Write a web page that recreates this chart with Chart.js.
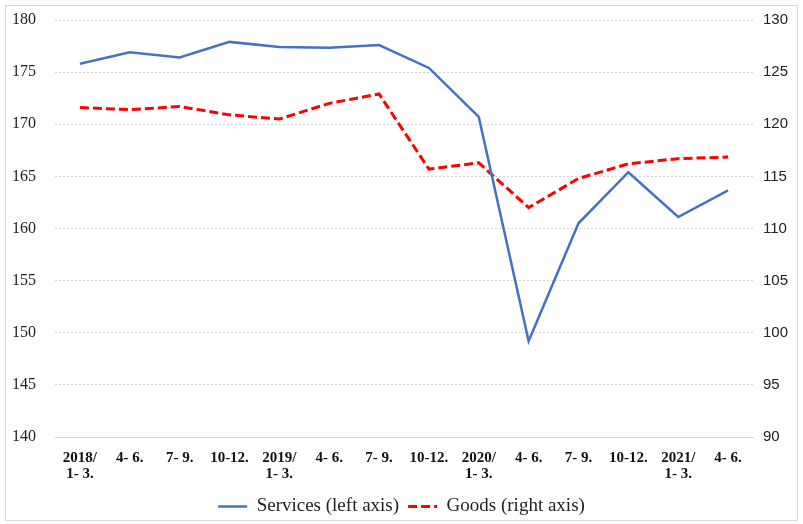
<!DOCTYPE html>
<html>
<head>
<meta charset="utf-8">
<script src="https://cdn.jsdelivr.net/npm/chart.js@4/dist/chart.umd.min.js"></script>
<style>
  html, body { margin: 0; padding: 0; background: #ffffff; }
  #wrap { position: relative; width: 803px; height: 524px; }
  #frame { position: absolute; left: 5px; top: 5px; width: 793px; height: 516px; border: 1px solid #d9d9d9; box-sizing: border-box; pointer-events: none; }
  canvas { position: absolute; left: 0; top: 0; }
</style>
</head>
<body>
<div id="wrap">
  <div id="frame"></div>
  <canvas id="c" width="803" height="524"></canvas>
</div>
<script>
const categories = [
  ['2018/', '1- 3.'], '4- 6.', '7- 9.', '10-12.',
  ['2019/', '1- 3.'], '4- 6.', '7- 9.', '10-12.',
  ['2020/', '1- 3.'], '4- 6.', '7- 9.', '10-12.',
  ['2021/', '1- 3.'], '4- 6.'
];
const servicesLeft = [175.8, 176.9, 176.4, 177.9, 177.4, 177.35, 177.6, 175.4, 170.7, 149.2, 160.5, 165.4, 161.1, 163.65];
const goodsRight = [121.6, 121.4, 121.7, 120.9, 120.5, 122.0, 122.9, 115.7, 116.3, 112.0, 114.8, 116.2, 116.7, 116.85];
const leftTicks = [140, 145, 150, 155, 160, 165, 170, 175, 180];
const rightTicks = [90, 95, 100, 105, 110, 115, 120, 125, 130];
const seriesNames = ['Services (left axis)', 'Goods (right axis)'];

new Chart(document.getElementById('c'), {
  type: 'line',
  data: {
    labels: categories,
    datasets: [
      {
        label: seriesNames[0],
        data: servicesLeft,
        yAxisID: 'yL',
        borderColor: '#4472C4',
        backgroundColor: '#4472C4',
        borderWidth: 2.5,
        pointRadius: 0,
        tension: 0,
        fill: false
      },
      {
        label: seriesNames[1],
        data: goodsRight,
        yAxisID: 'yR',
        borderColor: '#FF0000',
        backgroundColor: '#FF0000',
        borderWidth: 3,
        borderDash: [9, 4],
        pointRadius: 0,
        tension: 0,
        fill: false
      }
    ]
  },
  options: {
    responsive: false,
    animation: false,
    devicePixelRatio: 1,
    layout: { padding: { left: 6, right: 6, top: 20, bottom: -2 } },
    plugins: {
      tooltip: { enabled: false },
      legend: {
        position: 'bottom',
        labels: {
          usePointStyle: true,
          pointStyle: 'line',
          pointStyleWidth: 29,
          boxHeight: 19,
          padding: 9,
          color: '#222222',
          font: { family: '"Liberation Serif", "Times New Roman", serif', size: 19 },
          generateLabels: function (chart) {
            return chart.data.datasets.map(function (ds, i) {
              return {
                text: ds.label,
                fillStyle: ds.borderColor,
                strokeStyle: ds.borderColor,
                lineWidth: ds.borderWidth,
                lineDash: ds.borderDash || [],
                pointStyle: 'line',
                fontColor: '#222222',
                datasetIndex: i,
                hidden: false
              };
            });
          }
        }
      }
    },
    scales: {
      x: {
        type: 'category',
        offset: true,
        grid: { display: false, drawTicks: false },
        border: { display: true, color: '#d9d9d9', width: 1 },
        ticks: {
          autoSkip: false,
          maxRotation: 0,
          minRotation: 0,
          padding: 13,
          color: '#111111',
          font: { family: '"Liberation Serif", "Times New Roman", serif', size: 15, weight: 'bold', lineHeight: 1.07 }
        },
        afterFit: function (scale) { scale.height = 51; }
      },
      yL: {
        type: 'linear',
        position: 'left',
        min: 140,
        max: 180,
        afterBuildTicks: function (scale) { scale.ticks = leftTicks.map(function (v) { return { value: v }; }); },
        grid: { display: true, color: '#d4d4d4', lineWidth: 1, drawTicks: false },
        border: { display: false, dash: [2, 2] },
        ticks: {
          padding: 19,
          color: '#222222',
          font: { family: '"Liberation Serif", "Times New Roman", serif', size: 16, lineHeight: 1.25 }
        },
        afterFit: function (scale) { scale.width = 49; scale.paddingTop = 0; scale.paddingBottom = 0; }
      },
      yR: {
        type: 'linear',
        position: 'right',
        min: 90,
        max: 130,
        afterBuildTicks: function (scale) { scale.ticks = rightTicks.map(function (v) { return { value: v }; }); },
        grid: { display: false, drawTicks: false },
        border: { display: false },
        ticks: {
          padding: 10,
          color: '#222222',
          font: { family: '"Liberation Sans", Arial, sans-serif', size: 15, lineHeight: 1.25 }
        },
        afterFit: function (scale) { scale.width = 44; scale.paddingTop = 0; scale.paddingBottom = 0; }
      }
    }
  }
});
</script>
</body>
</html>
